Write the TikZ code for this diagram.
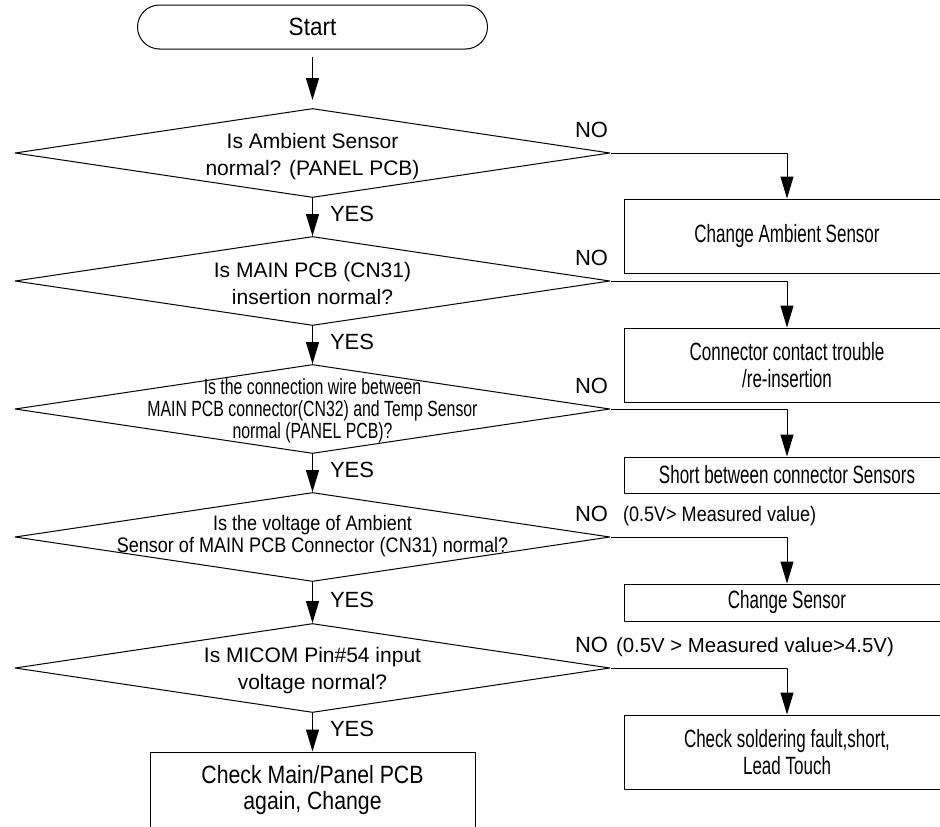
\documentclass[tikz,border=0pt]{standalone}
\usepackage{fontspec}
\setmainfont{Liberation Sans}
\newfontfamily\startfont[FakeStretch=0.90]{Liberation Sans}
\newfontfamily\narrowfont[FakeStretch=0.86]{Liberation Sans}
\newfontfamily\wirefont[FakeStretch=0.72]{Liberation Sans}
\newfontfamily\boxfont[FakeStretch=0.68]{Liberation Sans}
\newfontfamily\endfont[FakeStretch=0.85]{Liberation Sans}
\usetikzlibrary{arrows.meta,shapes.geometric}
\usetikzlibrary{positioning}

\begin{document}
\begin{tikzpicture}[x=1pt,y=-1pt,line width=1pt,>={Triangle[length=22pt,width=13pt]},line join=round,
  dec/.style={diamond,draw,minimum width=595pt,minimum height=89pt,inner sep=0pt},
  dtxt/.style={align=center,inner sep=0pt,font=\fontsize{21}{27}\selectfont},
  act/.style={draw,minimum width=326pt,inner sep=0pt,align=center,font=\boxfont\fontsize{25}{27}\selectfont},
  yes/.style={midway,right=17pt,yshift=3pt,inner sep=0pt,font=\fontsize{22}{26}\selectfont},
  nolbl/.style={anchor=south east,inner sep=0pt,yshift=15pt,xshift=-2pt,font=\fontsize{22}{26}\selectfont}]
\useasboundingbox (0,0) rectangle (940,827);
\clip (0,0) rectangle (940,827);
% --- main column
\node[draw,rounded corners=22pt,minimum width=350pt,minimum height=44pt,font=\startfont\fontsize{25}{30}\selectfont] (start) at (312.5,27) {Start};
\node[dec] (d1) at (312.5,153) {};
\node[dec] (d2) at (312.5,281) {};
\node[dec] (d3) at (312.5,409) {};
\node[dec] (d4) at (312.5,537) {};
\node[dec] (d5) at (312.5,668) {};
\node[draw,minimum width=325pt,minimum height=76pt,align=center,font=\endfont\fontsize{25}{26}\selectfont] (b6) at (312.5,790) {Check Main/Panel PCB\\again, Change};
% question texts
\node[dtxt] (t1) at (312.5,157) {Is Ambient Sensor\\normal? (PANEL PCB)};
\node[dtxt] (t2) at (312.5,283) {Is MAIN PCB (CN31)\\insertion normal?};
\node[dtxt,font=\wirefont\fontsize{22}{22}\selectfont] (t3) at (312.5,411) {Is the connection wire between\\MAIN PCB connector(CN32) and Temp Sensor\\normal (PANEL PCB)?};
\node[dtxt,font=\narrowfont\fontsize{21}{22}\selectfont] (t4) at (312.5,536) {Is the voltage of Ambient\\Sensor of MAIN PCB Connector (CN31) normal?};
\node[dtxt] (t5) at (312.5,671) {Is MICOM Pin\#54 input\\voltage normal?};
% --- right column
\node[act,minimum height=74pt] (b1) at (787,236) {Change Ambient Sensor};
\node[act,minimum height=74pt] (b2) at (787,365) {Connector contact trouble\\/re-insertion};
\node[act,minimum height=36pt] (b3) at (787,475) {Short between connector Sensors};
\node[act,minimum height=37pt] (b4) at (787,602.5) {Change Sensor};
\node[act,minimum height=74pt] (b5) at (787,752) {Check soldering fault,short,\\Lead Touch};
% connectors
\draw[->,shorten <=7pt,shorten >=8pt] (start.south) -- (d1.north);
\foreach \a/\b in {d1/d2,d2/d3,d3/d4,d4/d5,d5/b6} \draw[->] (\a.south) -- (\b.north) node[yes] {YES};
\foreach \n in {1,...,5} \draw[->] (d\n.east) node[nolbl] (no\n) {NO} -| (b\n.north);
\node[anchor=base west,inner sep=0pt,xshift=14pt,font=\narrowfont\fontsize{21}{26}\selectfont] (m4) at (no4.base east) {(0.5V> Measured value)};
\node[anchor=base west,inner sep=0pt,xshift=7pt,font=\fontsize{20.4}{26}\selectfont] (m5) at (no5.base east) {(0.5V > Measured value>4.5V)};
\end{tikzpicture}
\end{document}
